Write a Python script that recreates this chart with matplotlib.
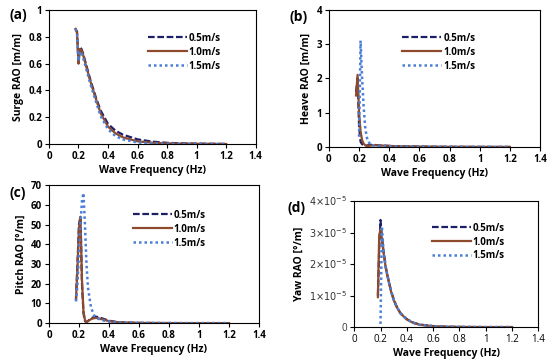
import numpy as np
import matplotlib
matplotlib.use('Agg')
import matplotlib.pyplot as plt

plt.rcParams['font.family'] = ['Open Sans', 'DejaVu Sans']

#%% Data
freq = [0.18, 0.19, 0.20, 0.21, 0.22, 0.23, 0.24, 0.25, 0.26, 0.28, 0.30, 0.32,
        0.35, 0.40, 0.45, 0.50, 0.60, 0.70, 0.80, 0.90, 1.00, 1.10, 1.20]
speeds = ['0.5m/s', '1.0m/s', '1.5m/s']

surge_05 = [0.86, 0.84, 0.62, 0.72, 0.71, 0.68, 0.64, 0.60, 0.56, 0.48, 0.41, 0.34,
            0.25, 0.15, 0.10, 0.07, 0.035, 0.018, 0.009, 0.005, 0.003, 0.002, 0.001]
surge_10 = [0.86, 0.83, 0.60, 0.71, 0.70, 0.67, 0.63, 0.59, 0.55, 0.47, 0.40, 0.33,
            0.23, 0.13, 0.08, 0.05, 0.02, 0.01, 0.005, 0.003, 0.002, 0.001, 0.0]
surge_15 = [0.86, 0.82, 0.62, 0.69, 0.68, 0.65, 0.61, 0.57, 0.53, 0.45, 0.38, 0.31,
            0.21, 0.11, 0.06, 0.035, 0.012, 0.005, 0.002, 0.001, 0.0, 0.0, 0.0]

heave_05 = [1.6, 2.0, 0.6, 0.15, 0.08, 0.05, 0.04, 0.04, 0.05, 0.06, 0.06, 0.05,
            0.04, 0.03, 0.02, 0.015, 0.01, 0.005, 0.003, 0.002, 0.001, 0.0, 0.0]
heave_10 = [1.5, 2.1, 1.0, 0.45, 0.2, 0.1, 0.05, 0.03, 0.03, 0.04, 0.05, 0.05,
            0.04, 0.03, 0.02, 0.015, 0.01, 0.005, 0.003, 0.002, 0.001, 0.0, 0.0]
heave_15 = [np.nan, np.nan, 0.3, 3.1, 2.0, 1.2, 0.6, 0.3, 0.15, 0.06, 0.04, 0.03,
            0.03, 0.02, 0.015, 0.01, 0.005, 0.003, 0.002, 0.001, 0.0, 0.0, 0.0]

pitch_05 = [12, 30, 50, 54, 20, 5, 1, 0.5, 1, 2.5, 3, 3.2,
            2.5, 1.2, 0.6, 0.3, 0.1, 0.05, 0.02, 0.0, 0.0, 0.0, 0.0]
pitch_10 = [12, 28, 48, 54, 22, 6, 1.5, 0.5, 1, 2, 2.5, 2.6,
            2, 1, 0.5, 0.3, 0.1, 0.05, 0.02, 0.0, 0.0, 0.0, 0.0]
pitch_15 = [11, 20, 35, 50, 62, 66, 50, 30, 18, 8, 4, 2.5,
            1.5, 0.8, 0.4, 0.2, 0.1, 0.05, 0.02, 0.0, 0.0, 0.0, 0.0]

yaw_05 = [1.0e-5, 2.5e-5, 3.4e-5, 2.9e-5, 2.5e-5, 2.2e-5, 1.9e-5, 1.7e-5, 1.5e-5, 1.15e-5, 0.88e-5, 0.68e-5,
          0.45e-5, 0.25e-5, 0.14e-5, 0.08e-5, 0.03e-5, 0.01e-5, 0.005e-5, 0.002e-5, 0.0, 0.0, 0.0]
yaw_10 = [0.95e-5, 2.9e-5, 3.1e-5, 2.8e-5, 2.45e-5, 2.15e-5, 1.87e-5, 1.67e-5, 1.48e-5, 1.13e-5, 0.86e-5, 0.66e-5,
          0.44e-5, 0.24e-5, 0.13e-5, 0.07e-5, 0.03e-5, 0.01e-5, 0.005e-5, 0.002e-5, 0.0, 0.0, 0.0]
yaw_15 = [np.nan, np.nan, 0.1e-5, 3.2e-5, 2.6e-5, 2.2e-5, 1.9e-5, 1.7e-5, 1.5e-5, 1.14e-5, 0.87e-5, 0.67e-5,
          0.44e-5, 0.24e-5, 0.13e-5, 0.07e-5, 0.03e-5, 0.01e-5, 0.005e-5, 0.002e-5, 0.0, 0.0, 0.0]

yaw_ticklabels = ['0', r'$1{\times}10^{-5}$', r'$2{\times}10^{-5}$', r'$3{\times}10^{-5}$', r'$4{\times}10^{-5}$']

#%% Styles
styles = [dict(color='#1d1f66', ls=(0, (3, 1.2)), lw=1.6),
          dict(color='#8e4a2c', ls='-', lw=1.6),
          dict(color='#4a7fd6', ls=(0, (1, 1.2)), lw=1.8)]

fig = plt.figure(figsize=(5.5, 3.61), dpi=100)

panels = [
    ('(a)', [0.089, 0.601, 0.376, 0.371], [surge_05, surge_10, surge_15], 'Surge RAO [m/m]',
     (0, 1), np.arange(0, 1.01, 0.2), (0.46, 0.86), (9, 15)),
    ('(b)', [0.598, 0.593, 0.384, 0.380], [heave_05, heave_10, heave_15], 'Heave RAO [m/m]',
     (0, 4), np.arange(0, 5, 1), (0.33, 0.86), (290, 17)),
    ('(c)', [0.089, 0.105, 0.382, 0.382], [pitch_05, pitch_10, pitch_15], 'Pitch RAO [\u00b0/m]',
     (0, 70), np.arange(0, 71, 10), (0.38, 0.85), (9, 193)),
    ('(d)', [0.644, 0.094, 0.335, 0.349], [yaw_05, yaw_10, yaw_15], 'Yaw RAO [\u00b0/m]',
     (0, 4e-5), np.arange(0, 5e-5, 1e-5), (0.4, 0.86), (288, 208)),
]

for tag, rect, series, ylab, ylim, yticks, leg_pos, tag_pos in panels:
    ax = fig.add_axes(rect)
    for y, lab, st in zip(series, speeds, styles):
        ax.plot(freq, y, label=lab, **st)
    ax.set_xlim(0, 1.4)
    ax.set_ylim(*ylim)
    ax.set_xticks(np.arange(0, 1.41, 0.2))
    ax.set_xticklabels(['0', '0.2', '0.4', '0.6', '0.8', '1', '1.2', '1.4'])
    ax.set_yticks(yticks)
    if tag == '(d)':
        ax.set_yticklabels(yaw_ticklabels, fontsize=7, color='#333333')
        ax.tick_params(axis='x', labelsize=7)
    else:
        ax.set_yticklabels(['%g' % v for v in yticks], fontsize=7, fontweight='bold')
        for t in ax.get_xticklabels():
            t.set_fontsize(7)
            t.set_fontweight('bold')
    ax.tick_params(length=3, width=0.8, pad=2)
    for s in ax.spines.values():
        s.set_linewidth(0.8)
    ax.set_xlabel('Wave Frequency (Hz)', fontsize=7.5, fontweight='bold', labelpad=2)
    ax.set_ylabel(ylab, fontsize=7.5, fontweight='bold', labelpad=3)
    leg = ax.legend(loc='upper left', bbox_to_anchor=leg_pos, frameon=False, fontsize=7,
                    handlelength=4, handletextpad=0.2, labelspacing=0.3, borderaxespad=0)
    for t in leg.get_texts():
        t.set_fontweight('bold')
    fig.text(tag_pos[0] / 550, 1 - tag_pos[1] / 361, tag, fontsize=10, fontweight='bold',
             va='center', ha='left')

fig.savefig('out.png', dpi=100)
